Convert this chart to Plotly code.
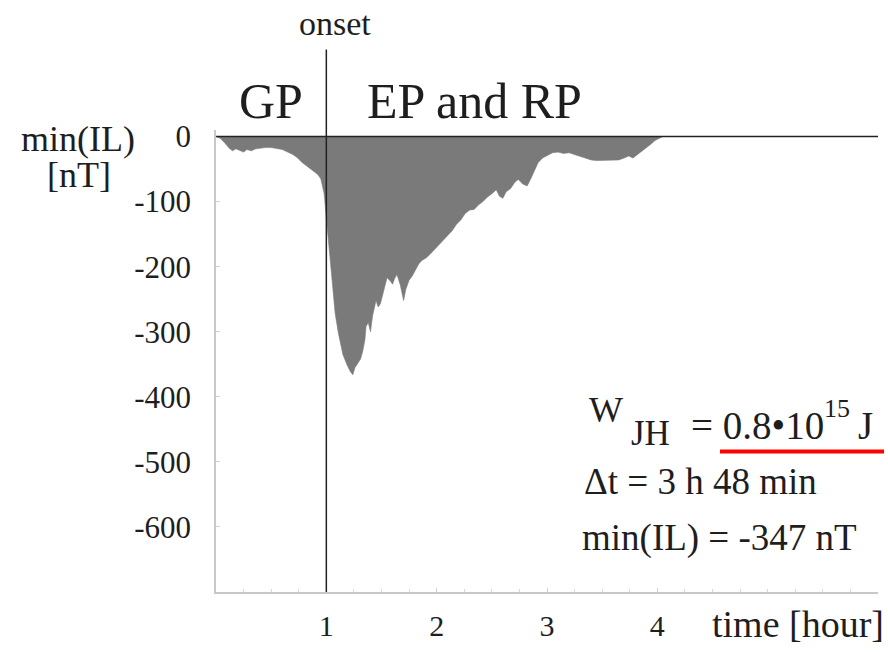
import plotly.graph_objects as go

# ---- data ----
time_h = [0.00, 0.04, 0.08, 0.12, 0.15, 0.18, 0.21, 0.25, 0.28, 0.32, 0.36, 0.40, 0.45, 0.50,
          0.55, 0.60, 0.65, 0.70, 0.74, 0.78, 0.82, 0.86, 0.89, 0.92, 0.95, 0.98, 1.00, 1.02,
          1.04, 1.06, 1.08, 1.11, 1.15, 1.19, 1.22, 1.24, 1.26, 1.28, 1.31, 1.33, 1.35, 1.36,
          1.38, 1.40, 1.42, 1.45, 1.47, 1.49, 1.52, 1.55, 1.58, 1.60, 1.62, 1.64, 1.67, 1.70,
          1.72, 1.75, 1.78, 1.81, 1.84, 1.87, 1.91, 1.94, 1.98, 2.02, 2.06, 2.10, 2.14,
          2.18, 2.22, 2.26, 2.30, 2.34, 2.38, 2.42, 2.46, 2.50, 2.54, 2.57, 2.60, 2.63, 2.67,
          2.71, 2.74, 2.78, 2.82, 2.85, 2.88, 2.92, 2.96, 3.00, 3.05, 3.10, 3.15, 3.20, 3.25,
          3.30, 3.35, 3.40, 3.45, 3.50, 3.55, 3.60, 3.65, 3.70, 3.74, 3.78, 3.82, 3.86, 3.90,
          3.94, 3.98, 4.02, 4.05]
min_il = [0, -3, -10, -18, -22, -19, -21, -24, -20, -22, -19, -18, -17, -17,
          -18, -20, -24, -28, -33, -40, -45, -50, -54, -58, -65, -88, -125, -165,
          -205, -245, -272, -303, -335, -352, -362, -366, -355, -350, -342, -330, -312, -292,
          -286, -300, -275, -252, -262, -257, -238, -217, -222, -227, -218, -212, -228, -252,
          -235, -221, -214, -205, -195, -190, -186, -181, -174, -167, -160, -152, -145,
          -135, -128, -118, -113, -112, -105, -100, -93, -88, -82, -92, -95, -85, -80,
          -70, -66, -73, -76, -66, -55, -40, -33, -29, -25, -24, -26, -25, -28,
          -31, -33, -36, -37, -37, -36, -37, -36, -33, -30, -33, -28, -22, -17,
          -12, -6, -2, 0]

x_tick_vals = [1, 2, 3, 4]
x_tick_text = ["1", "2", "3", "4"]
y_tick_vals = [0, -100, -200, -300, -400, -500, -600]
y_tick_text = ["0", "-100", "-200", "-300", "-400", "-500", "-600"]
onset_hour = 1

FONT = "Liberation Serif, Times New Roman, Times, serif"
INK = "#1e1e1e"

# plot area in pixels
L, R, T, B = 216, 878, 130, 600
W, H = R - L, B - T


def px(xp):
    return (xp - L) / W


def py(yp):
    return (B - yp) / H


fig = go.Figure()
fig.add_trace(go.Scatter(x=time_h, y=min_il, mode="lines", fill="tozeroy",
                         fillcolor="#7a7a7a", line=dict(color="#7a7a7a", width=0.6),
                         hoverinfo="skip"))

fig.update_layout(
    width=888, height=652,
    margin=dict(l=L, r=888 - R, t=T, b=652 - B),
    plot_bgcolor="white", paper_bgcolor="white", showlegend=False,
    font=dict(family=FONT, color=INK),
)
fig.update_xaxes(range=[0, 6], tickvals=x_tick_vals, ticktext=x_tick_text,
                 showline=True, linecolor="#c8c8c8", linewidth=1.5,
                 ticks="inside", ticklen=4, tickcolor="#d0d0d0",
                 minor=dict(dtick=0.25, ticks="inside", ticklen=3, tickcolor="#d8d8d8"),
                 showgrid=False, zeroline=False,
                 tickfont=dict(family=FONT, size=30, color=INK), ticklabelstandoff=6)
fig.update_yaxes(range=[-700, 10], tickvals=y_tick_vals, ticktext=y_tick_text,
                 showline=True, linecolor="#c8c8c8", linewidth=1.5,
                 ticks="inside", ticklen=4, tickcolor="#d0d0d0",
                 showgrid=False, zeroline=False,
                 tickfont=dict(family=FONT, size=31, color=INK), ticklabelstandoff=17)

# zero line and onset line
fig.add_shape(type="line", xref="x", yref="y", x0=0, x1=6.2, y0=0, y1=0,
              line=dict(color="#222222", width=1.5), layer="above")
fig.add_shape(type="line", xref="x", yref="paper", x0=onset_hour, x1=onset_hour,
              y0=0, y1=py(48), line=dict(color="#222222", width=1.5), layer="above")
# red underline
fig.add_shape(type="line", xref="paper", yref="paper", x0=px(720), x1=px(884),
              y0=py(457), y1=py(457), line=dict(color="#ff0000", width=4))


def text(xp, yp, s, size, xanchor="center", yanchor="middle"):
    fig.add_annotation(x=px(xp), y=py(yp), xref="paper", yref="paper", text=s,
                       showarrow=False, xanchor=xanchor, yanchor=yanchor, borderpad=0,
                       font=dict(family=FONT, size=size, color=INK))


text(335, 22, "onset", 34)
text(271, 100, "GP", 50)
text(474, 100, "EP and RP", 50)
text(78, 139, "min(IL)", 36)
text(79, 176, "[nT]", 36)
text(798, 633, "time [hour]", 38)

text(606, 415, "W", 36)
text(650, 439, "JH", 35)
text(690, 431, "= 0.8•10", 39, xanchor="left")
text(823, 413, "15", 26, xanchor="left")
text(857, 431, "J", 39, xanchor="left")
text(583, 488, "Δt = 3 h 48 min", 37, xanchor="left")
text(581, 545, "min(IL) = -347 nT", 37, xanchor="left")

fig.write_html("out.html")
